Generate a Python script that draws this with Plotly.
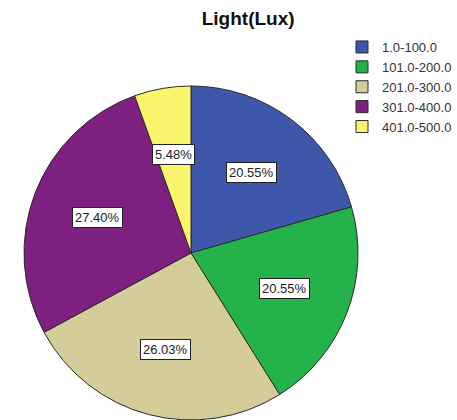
import math
import plotly.graph_objects as go

categories = ["1.0-100.0", "101.0-200.0", "201.0-300.0", "301.0-400.0", "401.0-500.0"]
counts = [15, 15, 19, 20, 4]
colors = ["#3F57AA", "#24B24B", "#D4CD9A", "#7D2080", "#FAF56C"]

W, H = 457, 420
FONT = "Liberation Sans, Arial, sans-serif"

# pie geometry (pixels)
cx, cy, R = 191, 253, 167
dom_x = [(cx - R) / W, (cx + R) / W]
dom_y = [1 - (cy + R) / H, 1 - (cy - R) / H]
dom_y = [max(0.0, dom_y[0]), min(1.0, dom_y[1])]

fig = go.Figure(go.Pie(
    labels=categories,
    values=counts,
    sort=False,
    direction="clockwise",
    rotation=0,
    marker=dict(colors=colors, line=dict(color="#2a2a2a", width=1)),
    textinfo="none",
    hoverinfo="label+percent",
    domain=dict(x=dom_x, y=dom_y),
))

total = sum(counts)
cum = 0
for v in counts:
    mid = (cum + v / 2) / total * 2 * math.pi
    cum += v
    px = cx + 0.6 * R * math.sin(mid)
    py = cy - 0.6 * R * math.cos(mid)
    fig.add_annotation(
        x=px / W, y=1 - py / H, xref="paper", yref="paper",
        text=f"{v / total * 100:.2f}%", showarrow=False,
        font=dict(family=FONT, size=13, color="#222222"),
        bgcolor="white", bordercolor="#222222", borderwidth=1, borderpad=2,
        xanchor="center", yanchor="middle",
    )

fig.update_layout(
    width=W, height=H,
    margin=dict(l=0, r=0, t=0, b=0),
    paper_bgcolor="white",
    plot_bgcolor="white",
    title=dict(text="<b>Light(Lux)</b>", x=0.543, xref="paper", xanchor="center",
               y=1 - 18 / H, yref="paper", yanchor="middle",
               font=dict(family=FONT, size=19, color="#111111")),
    legend=dict(x=342 / W, y=1 - 32 / H, xanchor="left", yanchor="top",
                font=dict(family=FONT, size=13, color="#333333"),
                bgcolor="rgba(0,0,0,0)", tracegroupgap=0, itemwidth=30),
    showlegend=True,
)

fig.write_html("out.html")
